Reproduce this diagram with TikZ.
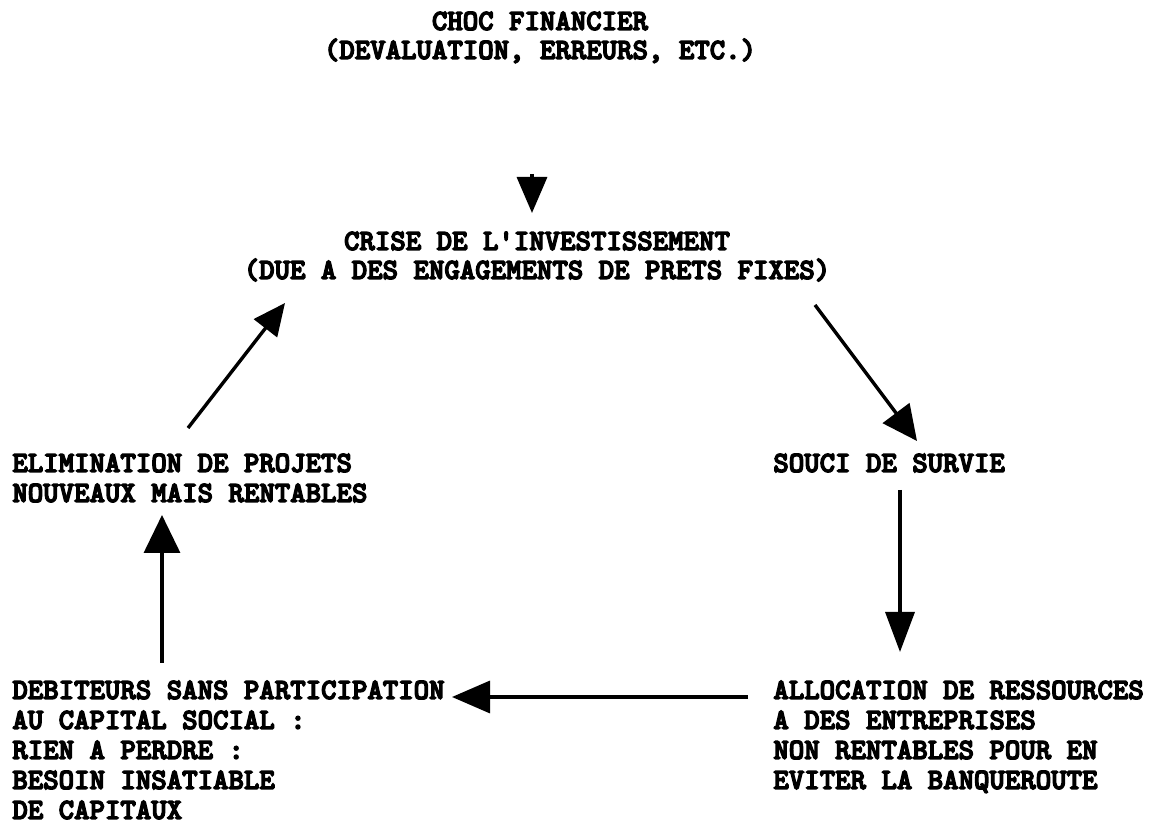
\documentclass[tikz,border=0pt]{standalone}
\usepackage{fontspec}
\newfontfamily\twbold[Extension=.otf,FakeBold=4.5]{lmmonolt10-bold}
\usetikzlibrary{arrows.meta}
\begin{document}
\begin{tikzpicture}[x=0.5pt,y=-0.5pt,
  txt/.style={inner sep=0pt,font=\twbold\fontsize{14.7}{15}\selectfont},
  tl/.style={txt,anchor=base west,align=left},
  tc/.style={txt,anchor=base,align=center,font=\twbold\fontsize{14.7}{14.5}\selectfont},
  conn/.style={line width=1.7pt,-{Triangle[length=18pt,width=15pt]}}
]
\useasboundingbox (0,0) rectangle (1164,823);

\node[tc] (choc) at (540,59) {CHOC FINANCIER\\(DEVALUATION, ERREURS, ETC.)};
\node[tc] (crise) at (537,279) {CRISE DE L'INVESTISSEMENT\\(DUE A DES ENGAGEMENTS DE PRETS FIXES)};
\node[tl] (souci) at (773,472) {SOUCI DE SURVIE};
\node[tl] (elim) at (12,502) {ELIMINATION DE PROJETS\\NOUVEAUX MAIS RENTABLES};
\node[tl] (alloc) at (773,789) {ALLOCATION DE RESSOURCES\\A DES ENTREPRISES\\NON RENTABLES POUR EN\\EVITER LA BANQUEROUTE};
\node[tl] (debit) at (12,819) {DEBITEURS SANS PARTICIPATION\\AU CAPITAL SOCIAL :\\RIEN A PERDRE :\\BESOIN INSATIABLE\\DE CAPITAUX};

\coordinate (a1s) at (532,174);
\coordinate (a1e) at (532,213);
\coordinate (a2s) at (815,305);
\coordinate (a2e) at (917,441);
\coordinate (a3s) at (900,490);
\coordinate (a3e) at (900,652);
\coordinate (a4s) at (748,697);
\coordinate (a4e) at (452,697);
\coordinate (a5s) at (162,663);
\coordinate (a5e) at (162,515);
\coordinate (a6s) at (188,428);
\coordinate (a6e) at (285,303);

\draw[conn] (a1s) -- (a1e);
\draw[conn,-{Triangle[length=17.5pt,width=16.5pt]}] (a2s) -- (a2e);
\draw[conn,-{Triangle[length=20pt,width=14.5pt]}] (a3s) -- (a3e);
\draw[conn,-{Triangle[length=19pt,width=16pt]}] (a4s) -- (a4e);
\draw[conn,-{Triangle[length=19pt,width=18pt]}] (a5s) -- (a5e);
\draw[conn,-{Triangle[length=16pt,width=14.5pt]}] (a6s) -- (a6e);
\end{tikzpicture}
\end{document}
